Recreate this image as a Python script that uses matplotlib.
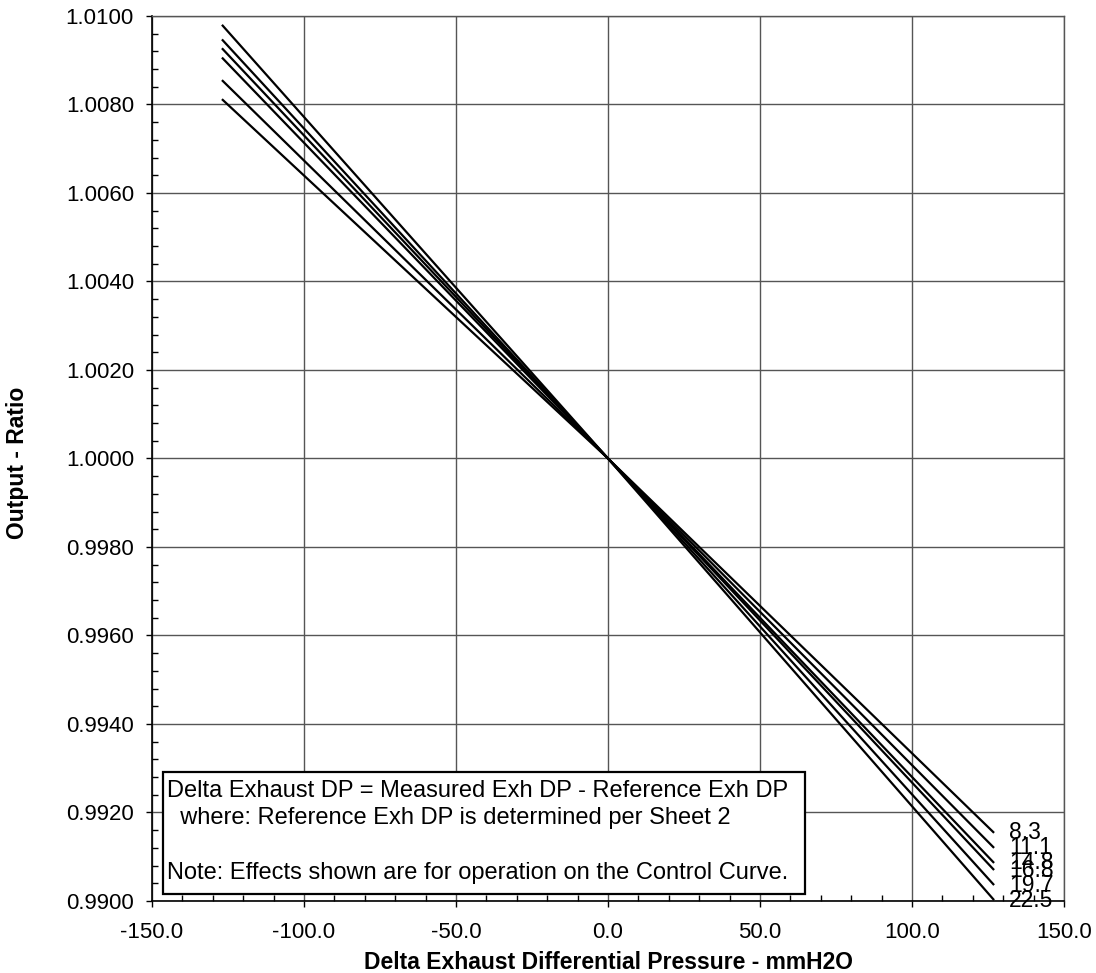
import matplotlib
matplotlib.use("Agg")
import matplotlib.pyplot as plt
from matplotlib.ticker import MultipleLocator, FormatStrFormatter
from matplotlib.patches import Rectangle

plt.rcParams['font.family'] = ['Liberation Sans', 'DejaVu Sans']

# datos
x_pts = [-127.0, 0.0, 127.0]
labels = ["8.3", "11.1", "14.8", "16.8", "19.7", "22.5"]
y_left = [1.00812, 1.00855, 1.00906, 1.00927, 1.00947, 1.00980]
y_right = [0.99154, 0.99120, 0.99086, 0.99070, 0.99036, 0.99002]

fig = plt.figure(figsize=(10.96, 9.73), dpi=100)
ax = fig.add_axes([0.1387, 0.0740, 0.8321, 0.9096])

for lab, yl, yr in zip(labels, y_left, y_right):
    ax.plot(x_pts, [yl, 1.0, yr], color='black', lw=1.6, solid_capstyle='butt')
    ax.annotate(lab, xy=(x_pts[-1], yr), xytext=(11, 0), textcoords='offset points',
                ha='left', va='center', fontsize=16.5, annotation_clip=False)

ax.set_xlim(-150, 150)
ax.set_ylim(0.99, 1.01)
ax.xaxis.set_major_locator(MultipleLocator(50))
ax.xaxis.set_minor_locator(MultipleLocator(10))
ax.yaxis.set_major_locator(MultipleLocator(0.002))
ax.yaxis.set_minor_locator(MultipleLocator(0.0004))
ax.xaxis.set_major_formatter(FormatStrFormatter('%.1f'))
ax.yaxis.set_major_formatter(FormatStrFormatter('%.4f'))
ax.tick_params(which='major', direction='out', length=4, width=1, labelsize=16)
ax.tick_params(axis='x', which='major', pad=11)
ax.tick_params(axis='y', which='major', pad=9)
ax.tick_params(which='minor', direction='in', length=4, width=1)
ax.grid(True, which='major', color='#555555', lw=1)
ax.set_axisbelow(True)
for side in ['top', 'right']:
    ax.spines[side].set_color('#555555')
    ax.spines[side].set_linewidth(1)
for side in ['left', 'bottom']:
    ax.spines[side].set_linewidth(1.2)

# cuadro de nota
ax.add_patch(Rectangle((0.012, 0.0079), 0.704, 0.1379, transform=ax.transAxes,
                       facecolor='white', edgecolor='black', lw=1.6, zorder=5))
note = ("Delta Exhaust DP = Measured Exh DP - Reference Exh DP\n"
        "  where: Reference Exh DP is determined per Sheet 2\n"
        "\n"
        "Note: Effects shown are for operation on the Control Curve.")
ax.text(0.0165, 0.0780, note, transform=ax.transAxes, ha='left', va='center',
        fontsize=17, linespacing=1.33, zorder=6)

ax.set_xlabel("Delta Exhaust Differential Pressure - mmH2O", fontsize=16.5,
              fontweight='bold', labelpad=6)
fig.text(0.0164, 0.524, "Output - Ratio", ha='center', va='center',
         rotation=90, fontsize=16.5, fontweight='bold')

fig.savefig("out.png", dpi=100)
